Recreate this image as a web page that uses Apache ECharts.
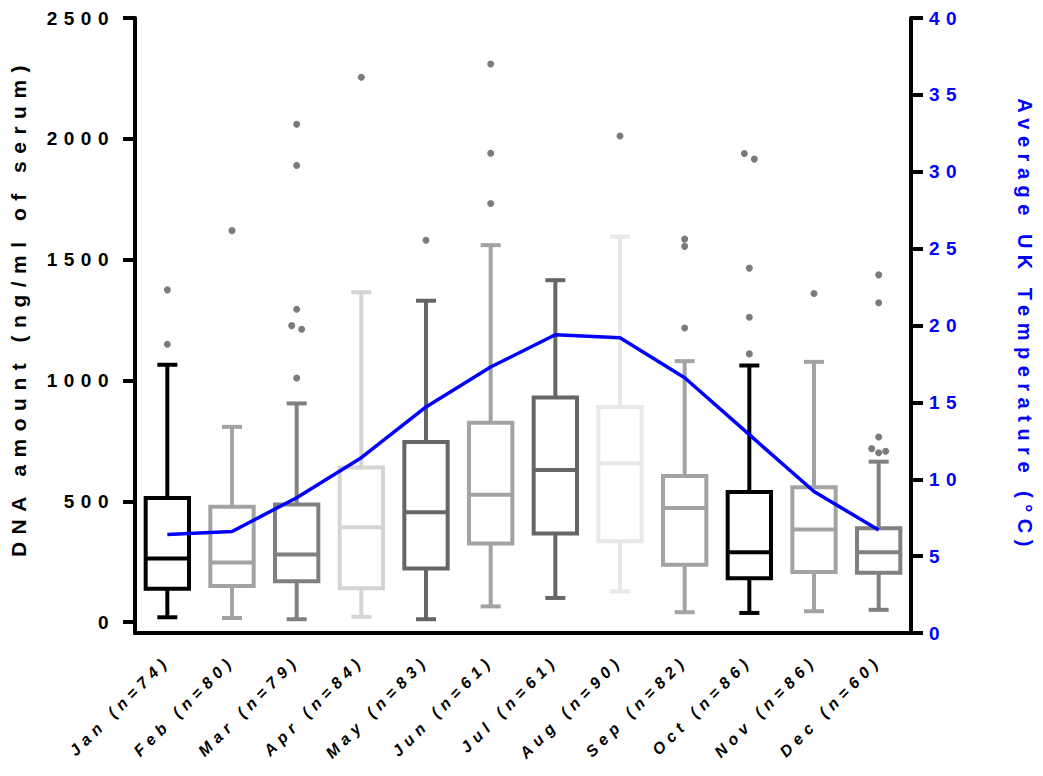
<!DOCTYPE html>
<html>
<head>
<meta charset="utf-8">
<title>DNA amount by month</title>
<script src="https://cdn.jsdelivr.net/npm/echarts@6/dist/echarts.min.js"></script>
<style>
    html, body { margin: 0; padding: 0; background: #fff; }
    #chart { width: 1043px; height: 776px; }
    #chart svg text { letter-spacing: 5px; }
    #chart svg text[style*="19px"] { letter-spacing: 6.5px; }
    #chart svg text[style*="20px"] { letter-spacing: 6.5px; }
    #chart svg text[style*="21px"] { letter-spacing: 7.5px; }
    #chart svg text[style*="16px"] { letter-spacing: 5.5px; }
</style>
</head>
<body>
<div id="chart"></div>
<script>
// months with sample counts
var months = ['Jan (n=74)', 'Feb (n=80)', 'Mar (n=79)', 'Apr (n=84)', 'May (n=83)', 'Jun (n=61)',
    'Jul (n=61)', 'Aug (n=90)', 'Sep (n=82)', 'Oct (n=86)', 'Nov (n=86)', 'Dec (n=60)'];

// box stats: [lower whisker, Q1, median, Q3, upper whisker] in ng/ml
var boxStats = [
    [20, 138, 263, 514, 1065],
    [17, 149, 247, 477, 808],
    [12, 169, 280, 487, 905],
    [22, 140, 393, 640, 1365],
    [12, 222, 455, 745, 1330],
    [65, 325, 527, 825, 1560],
    [100, 367, 630, 930, 1415],
    [127, 335, 657, 890, 1595],
    [41, 237, 472, 605, 1080],
    [38, 182, 289, 538, 1062],
    [45, 207, 383, 558, 1077],
    [51, 204, 289, 388, 664]
];

// outliers per month
var outliers = [
    [1150, 1375],
    [1620],
    [1010, 1212, 1227, 1295, 1890, 2060],
    [2255],
    [1580],
    [1732, 1940, 2310],
    [],
    [2012],
    [1217, 1555, 1585],
    [1110, 1262, 1465, 1916, 1939],
    [1360],
    [701, 707, 718, 766, 1322, 1437]
];

// average UK temperature, deg C
var temperature = [6.4, 6.6, 8.8, 11.4, 14.7, 17.3, 19.4, 19.2, 16.6, 12.9, 9.2, 6.7];

var leftTicks = [0, 500, 1000, 1500, 2000, 2500];

var boxColors = ['#000000', '#a3a3a3', '#808080', '#d4d4d4', '#666666', '#a3a3a3',
    '#666666', '#e8e8e8', '#a3a3a3', '#000000', '#a3a3a3', '#808080'];

var font = 'Liberation Sans, Arial, sans-serif';

// box data for the custom series
var boxData = boxStats.map(function (s, i) {
    return [i].concat(s);
});

// outlier points, nudging sideways the ones that sit on top of each other
var outlierData = [];
outliers.forEach(function (list, i) {
    var vals = list.slice().sort(function (a, b) { return a - b; });
    var k = 0;
    while (k < vals.length) {
        var grp = [vals[k]];
        while (k + grp.length < vals.length && vals[k + grp.length] - grp[grp.length - 1] < 25) {
            grp.push(vals[k + grp.length]);
        }
        var offs = grp.length === 1 ? [0] : grp.length === 2 ? [5, -5] : [0, 7, -7];
        grp.forEach(function (v, j) {
            outlierData.push({ value: [i, v], symbolOffset: [offs[j] || 0, 0] });
        });
        k += grp.length;
    }
});

function renderBox(params, api) {
    var i = api.value(0);
    var x = api.coord([i, 0])[0];
    var band = api.size([1, 0])[0];
    var bw = band * 0.67;
    var cw = band * 0.31;
    var yLo = api.coord([i, api.value(1)])[1];
    var yQ1 = api.coord([i, api.value(2)])[1];
    var yMed = api.coord([i, api.value(3)])[1];
    var yQ3 = api.coord([i, api.value(4)])[1];
    var yHi = api.coord([i, api.value(5)])[1];
    var c = boxColors[i];
    var st = { stroke: c, lineWidth: 4 };
    return {
        type: 'group',
        children: [
            { type: 'line', shape: { x1: x, y1: yHi, x2: x, y2: yQ3 }, style: st },
            { type: 'line', shape: { x1: x, y1: yQ1, x2: x, y2: yLo }, style: st },
            { type: 'line', shape: { x1: x - cw / 2, y1: yHi, x2: x + cw / 2, y2: yHi }, style: st },
            { type: 'line', shape: { x1: x - cw / 2, y1: yLo, x2: x + cw / 2, y2: yLo }, style: st },
            { type: 'rect', shape: { x: x - bw / 2, y: yQ3, width: bw, height: yQ1 - yQ3 },
                style: { stroke: c, lineWidth: 4, fill: '#ffffff' } },
            { type: 'line', shape: { x1: x - bw / 2, y1: yMed, x2: x + bw / 2, y2: yMed }, style: st }
        ]
    };
}

var chart = echarts.init(document.getElementById('chart'), null, { renderer: 'svg' });
chart.setOption({
    animation: false,
    backgroundColor: '#ffffff',
    grid: { left: 132, right: 121, top: 18, bottom: 143 },
    xAxis: {
        type: 'category',
        data: months,
        axisLine: { onZero: false, lineStyle: { color: '#000', width: 4 } },
        axisTick: { alignWithLabel: true, length: 12, lineStyle: { color: '#000', width: 4 } },
        axisLabel: {
            interval: 0, rotate: 45, margin: 25,
            color: '#000', fontFamily: font, fontWeight: 'bold', fontStyle: 'italic', fontSize: 16
        },
        splitLine: { show: false }
    },
    yAxis: [
        {
            type: 'value',
            min: -45, max: 2500,
            name: 'DNA amount (ng/ml of serum)',
            nameLocation: 'middle', nameRotate: 90, nameGap: 106,
            nameTextStyle: { color: '#000', fontFamily: font, fontWeight: 'bold', fontSize: 21, padding: [0, 0, 0, 36] },
            axisLine: { show: true, lineStyle: { color: '#000', width: 4 } },
            axisTick: { show: true, customValues: leftTicks, length: 12, lineStyle: { color: '#000', width: 4 } },
            axisLabel: {
                customValues: leftTicks, margin: 20, color: '#000', fontFamily: font, fontWeight: 'bold', fontSize: 19,
                formatter: function (v) { return String(v); }
            },
            splitLine: { show: false }
        },
        {
            type: 'value',
            min: 0, max: 40, interval: 5,
            position: 'right',
            name: 'Average UK Temperature (°C)',
            nameLocation: 'middle', nameRotate: -90, nameGap: 104,
            nameTextStyle: { color: '#0000ff', fontFamily: font, fontWeight: 'bold', fontSize: 20 },
            axisLine: { show: true, lineStyle: { color: '#000', width: 4 } },
            axisTick: { show: true, length: 12, lineStyle: { color: '#000', width: 4 } },
            axisLabel: { margin: 18, color: '#0000ff', fontFamily: font, fontWeight: 'bold', fontSize: 19 },
            splitLine: { show: false }
        }
    ],
    series: [
        {
            type: 'custom',
            name: 'DNA',
            renderItem: renderBox,
            encode: { x: 0, y: [1, 2, 3, 4, 5] },
            data: boxData,
            z: 2
        },
        {
            type: 'line',
            name: 'Temperature',
            yAxisIndex: 1,
            data: temperature,
            symbol: 'none',
            lineStyle: { color: '#0000ff', width: 3.5 },
            z: 3
        },
        {
            type: 'scatter',
            name: 'Outliers',
            data: outlierData,
            symbol: 'circle',
            symbolSize: 7,
            itemStyle: { color: '#5a5a5a' },
            z: 4
        }
    ]
});
</script>
</body>
</html>
